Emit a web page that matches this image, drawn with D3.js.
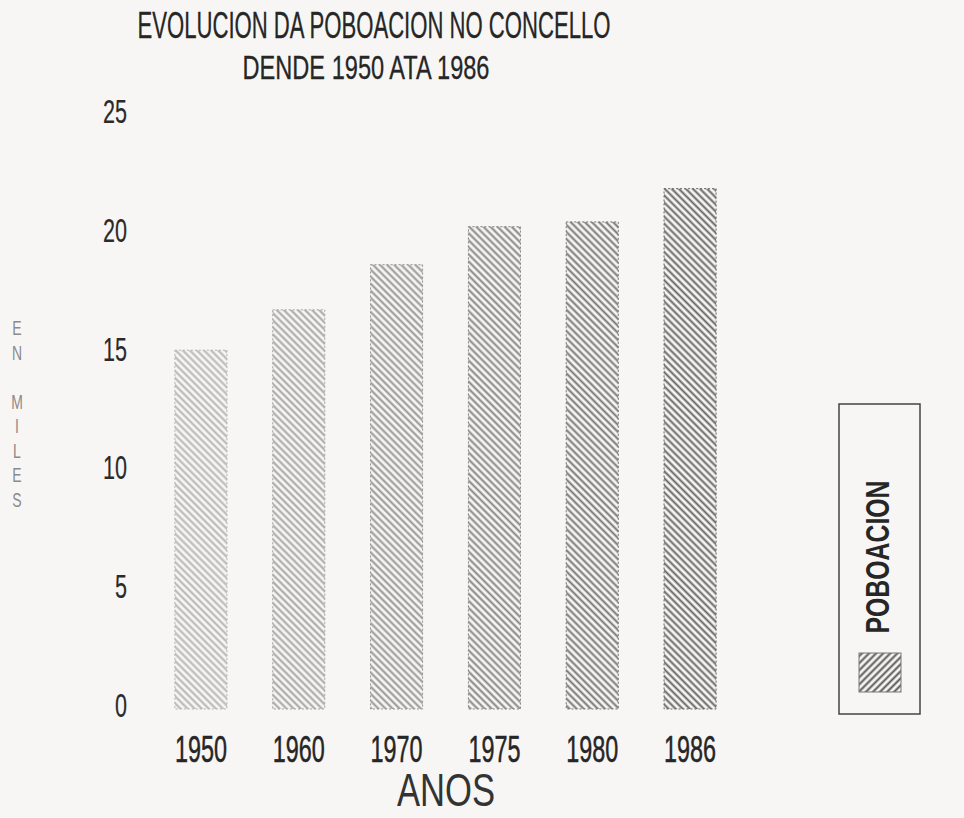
<!DOCTYPE html>
<html>
<head>
<meta charset="utf-8">
<script src="https://cdn.jsdelivr.net/npm/d3@7"></script>
<style>
  body { margin: 0; background: #f8f6f4; }
  svg text { font-family: "Liberation Sans Narrow", "Arial Narrow", "Liberation Sans", sans-serif; fill: #262626; }
</style>
</head>
<body>
<div id="chart"></div>
<script>
var width = 964,
    height = 818;

// data (thousands of inhabitants)
var years = ["1950", "1960", "1970", "1975", "1980", "1986"];
var poboacion = [15.1, 16.8, 18.7, 20.3, 20.5, 21.9];
var yTicks = [0, 5, 10, 15, 20, 25];
var titleLines = ["EVOLUCION DA POBOACION NO CONCELLO", "DENDE 1950 ATA 1986"];
var yTitle = ["E", "N", "", "M", "I", "L", "E", "S"];
var seriesName = "POBOACION";
var xTitle = "ANOS";

var svg = d3.select("#chart").append("svg")
  .attr("width", width)
  .attr("height", height);

svg.append("rect")
  .attr("width", width)
  .attr("height", height)
  .attr("fill", "#f8f6f4");

var x = d3.scaleBand()
  .domain(years)
  .range([152, 739])
  .paddingInner(0.468)
  .paddingOuter(0.234);

var y = d3.scaleLinear()
  .domain([0, 25])
  .range([709, 115]);

// each bar gets its own hatch, lighter for the older years
var shade = d3.scaleLinear()
  .domain([0, years.length - 1])
  .range(["#b4b4b4", "#666666"]);

var defs = svg.append("defs");

years.forEach(function(d, i) {
  var p = defs.append("pattern")
    .attr("id", "hatch" + i)
    .attr("patternUnits", "userSpaceOnUse")
    .attr("width", 5)
    .attr("height", 5)
    .attr("patternTransform", "rotate(-45)");
  p.append("line")
    .attr("x1", 1.5).attr("y1", 0)
    .attr("x2", 1.5).attr("y2", 5)
    .attr("stroke", shade(i))
    .attr("stroke-width", 2);
});

var lp = defs.append("pattern")
  .attr("id", "hatchLegend")
  .attr("patternUnits", "userSpaceOnUse")
  .attr("width", 5)
  .attr("height", 5)
  .attr("patternTransform", "rotate(45)");
lp.append("line")
  .attr("x1", 1.5).attr("y1", 0)
  .attr("x2", 1.5).attr("y2", 5)
  .attr("stroke", "#555")
  .attr("stroke-width", 2);

// bars
svg.selectAll("rect.bar")
  .data(poboacion)
  .enter()
  .append("rect")
  .attr("class", "bar")
  .attr("x", function(d, i) { return x(years[i]); })
  .attr("y", function(d) { return y(d); })
  .attr("width", x.bandwidth())
  .attr("height", function(d) { return y(0) - y(d); })
  .attr("fill", function(d, i) { return "url(#hatch" + i + ")"; })
  .attr("stroke", function(d, i) { return shade(i); })
  .attr("stroke-width", 1)
  .attr("stroke-dasharray", "2,2");

// titles
svg.selectAll("text.title")
  .data(titleLines)
  .enter()
  .append("text")
  .attr("class", "title")
  .attr("x", function(d, i) { return i == 0 ? 374 : 366; })
  .attr("y", function(d, i) { return i == 0 ? 38 : 79; })
  .attr("text-anchor", "middle")
  .style("font-size", function(d, i) { return i == 0 ? "36px" : "33px"; })
  .style("stroke", "#262626")
  .style("stroke-width", 0.3)
  .attr("textLength", function(d, i) { return i == 0 ? 473 : 247; })
  .attr("lengthAdjust", "spacingAndGlyphs")
  .text(function(d) { return d; });

// y axis, labels only
var yAxis = svg.append("g")
  .attr("transform", "translate(127,0)")
  .call(d3.axisLeft(y).tickValues(yTicks).tickSize(0).tickPadding(0));
yAxis.select(".domain").remove();
yAxis.selectAll("text")
  .attr("dy", "0.35em")
  .attr("y", -4)
  .attr("textLength", function(d) { return String(d).length * 12; })
  .attr("lengthAdjust", "spacingAndGlyphs")
  .style("font-family", "'Liberation Sans Narrow', 'Arial Narrow', 'Liberation Sans', sans-serif")
  .style("font-size", "33px")
  .style("fill", "#2a2a2a")
  .style("stroke", "#2a2a2a")
  .style("stroke-width", 0.2);

// stacked y title
svg.selectAll("text.ytitle")
  .data(yTitle)
  .enter()
  .append("text")
  .attr("class", "ytitle")
  .attr("transform", function(d, i) { return "translate(17," + (335 + i * 24.5) + ") scale(0.7,1)"; })
  .attr("text-anchor", "middle")
  .style("font-size", "20px")
  .style("fill", "#8a8a8a")
  .text(function(d) { return d; });

// x labels
svg.selectAll("text.year")
  .data(years)
  .enter()
  .append("text")
  .attr("class", "year")
  .attr("x", function(d) { return x(d) + x.bandwidth() / 2; })
  .attr("y", 762)
  .attr("text-anchor", "middle")
  .style("font-size", "36px")
  .style("stroke", "#262626")
  .style("stroke-width", 0.5)
  .attr("textLength", 52)
  .attr("lengthAdjust", "spacingAndGlyphs")
  .text(function(d) { return d; });

svg.append("text")
  .attr("x", 446)
  .attr("y", 806)
  .attr("text-anchor", "middle")
  .style("font-size", "46px")
  .style("fill", "#333")
  .attr("textLength", 98)
  .attr("lengthAdjust", "spacingAndGlyphs")
  .text(xTitle);

// legend
var legend = svg.append("g");
legend.append("rect")
  .attr("x", 839)
  .attr("y", 404)
  .attr("width", 81)
  .attr("height", 310)
  .attr("fill", "none")
  .attr("stroke", "#444")
  .attr("stroke-width", 1.5);
legend.append("rect")
  .attr("x", 859)
  .attr("y", 653)
  .attr("width", 42)
  .attr("height", 39)
  .attr("fill", "url(#hatchLegend)")
  .attr("stroke", "#777")
  .attr("stroke-width", 1);
legend.append("text")
  .attr("transform", "translate(889,557) rotate(-90)")
  .attr("text-anchor", "middle")
  .style("font-size", "34px")
  .style("font-weight", "bold")
  .attr("textLength", 153)
  .attr("lengthAdjust", "spacingAndGlyphs")
  .text(seriesName);
</script>
</body>
</html>
